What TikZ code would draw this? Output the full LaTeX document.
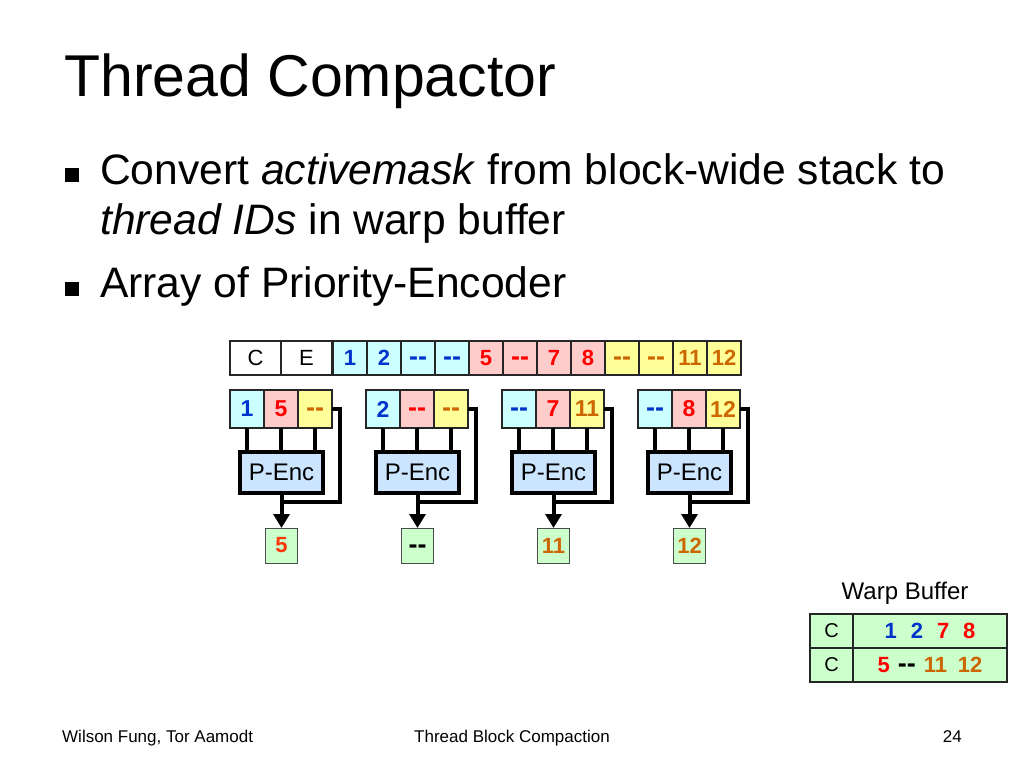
\documentclass[tikz,border=0pt]{standalone}
\usepackage{fontspec}
\setmainfont{Liberation Sans}
\usetikzlibrary{arrows.meta,positioning,calc}
\definecolor{cellcyan}{RGB}{204,255,255}
\definecolor{cellpink}{RGB}{255,204,204}
\definecolor{cellyellow}{RGB}{255,255,153}
\definecolor{numblue}{RGB}{0,51,204}
\definecolor{numred}{RGB}{255,0,0}
\definecolor{numorange}{RGB}{204,102,0}
\definecolor{outred}{RGB}{250,55,10}
\definecolor{encblue}{RGB}{204,229,255}
\definecolor{bufgreen}{RGB}{204,255,204}
\newcommand{\dd}{\vphantom{1}{\fontsize{27}{27}\selectfont -{}-}}
\newcommand{\fs}[1]{\fontsize{#1}{#1}\selectfont}

\begin{document}
\begin{tikzpicture}[x=1pt, y=-1pt,
    txt/.style={anchor=base west, inner sep=0pt},
    bulletsq/.style={fill=black, minimum size=14pt, inner sep=0pt},
    cell/.style={draw=black!85, line width=1.2pt, minimum width=34pt, minimum height=34pt,
                 inner sep=0pt, outer sep=0pt, font=\fs{22}\bfseries},
    gcell/.style={cell, line width=2pt, minimum height=38pt, font=\fs{23}\bfseries},
    penc/.style={draw=black, line width=4pt, fill=encblue, minimum width=83pt,
                 minimum height=41pt, inner sep=0pt, outer sep=0pt, font=\fs{24}},
    outbox/.style={draw=black!70, line width=1pt, fill=bufgreen, minimum width=32pt,
                   minimum height=35pt, inner sep=0pt, outer sep=0pt, font=\fs{22}\bfseries},
    wire/.style={line width=4pt},
    bufcell/.style={draw=black!85, line width=1.2pt, fill=bufgreen, minimum height=34pt,
                    inner sep=0pt, outer sep=0pt}]

    \useasboundingbox (0,0) rectangle (1024,768);

    % title and bullets
    \node[txt, font=\fs{59}] (title) at (64,96) {Thread Compactor};
    \node[bulletsq] (bul1) at (72,175) {};
    \node[txt, font=\fs{42.6}] (line1) at (100,184) {Convert \textit{activemask} from block-wide stack to};
    \node[txt, font=\fs{42.6}] (line2) at (100,234) {\textit{thread IDs} in warp buffer};
    \node[bulletsq] (bul2) at (72,289) {};
    \node[txt, font=\fs{42.6}] (line3) at (100,297) {Array of Priority-Encoder};

    % block-wide stack entry
    \node[cell, minimum width=51pt, font=\fs{22}] (colC) at (255.5,358) {C};
    \node[cell, minimum width=51pt, font=\fs{22}, right=0pt of colC] (colE) {E};
    \foreach \v/\f/\t [count=\i] in {1/cellcyan/numblue, 2/cellcyan/numblue, \dd/cellcyan/numblue,
        \dd/cellcyan/numblue, 5/cellpink/numred, \dd/cellpink/numred, 7/cellpink/numred,
        8/cellpink/numred, \dd/cellyellow/numorange, \dd/cellyellow/numorange,
        11/cellyellow/numorange, 12/cellyellow/numorange}
        \node[cell, fill=\f, text=\t] (top\i) at ({316+34*\i},358) {\v};

    % priority encoders
    \foreach \a/\b/\c/\o/\oc [count=\k from 0] in {1/5/\dd/5/outred, 2/\dd/\dd/\dd/black,
        \dd/7/11/11/numorange, \dd/8/12/12/numorange} {
        \node[gcell, fill=cellcyan, text=numblue] (ga\k) at ({247+136*\k},409) {\a};
        \node[gcell, fill=cellpink, text=numred, right=0pt of ga\k] (gb\k) {\b};
        \node[gcell, fill=cellyellow, text=numorange, right=0pt of gb\k] (gc\k) {\c};
        \node[penc] (enc\k) at ({281.5+136*\k},472.5) {P-Enc};
        \node[outbox, text=\oc] (out\k) at ({281.5+136*\k},545.5) {\o};
        \foreach \s in {ga,gb,gc}
            \draw[wire] (\s\k.south) -- (\s\k.south |- enc\k.north);
        \coordinate (join\k) at ($(enc\k.south)+(0,9)$);
        \draw[wire] (gc\k.east) -- ++(8,0) |- (join\k);
        \draw[wire, -{Triangle[width=16pt,length=14pt]}] (enc\k.south) -- (out\k.north);
    }

    % warp buffer
    \node[font=\fs{24}] (wblabel) at (905,593) {Warp Buffer};
    \node[bufcell, minimum width=43pt, font=\fs{20}] (wc1) at (831.5,631) {C};
    \node[bufcell, minimum width=154pt, right=0pt of wc1, font=\fs{22}\bfseries] (wr1)
        {\color{numblue}1\hspace{14pt}2\hspace{14pt}\color{numred}7\hspace{14pt}8};
    \node[bufcell, minimum width=43pt, font=\fs{20}, below=0pt of wc1] (wc2) {C};
    \node[bufcell, minimum width=154pt, right=0pt of wc2, font=\fs{22}\bfseries] (wr2)
        {\color{numred}5\hspace{8pt}\color{black}\dd\hspace{8pt}\color{numorange}11\hspace{11pt}12};

    % footer
    \node[txt, font=\fs{17}] (foot1) at (62,742) {Wilson Fung, Tor Aamodt};
    \node[anchor=base, inner sep=0pt, font=\fs{17}] (foot2) at (512,742) {Thread Block Compaction};
    \node[anchor=base east, inner sep=0pt, font=\fs{17}] (foot3) at (962,742) {24};

\end{tikzpicture}
\end{document}
